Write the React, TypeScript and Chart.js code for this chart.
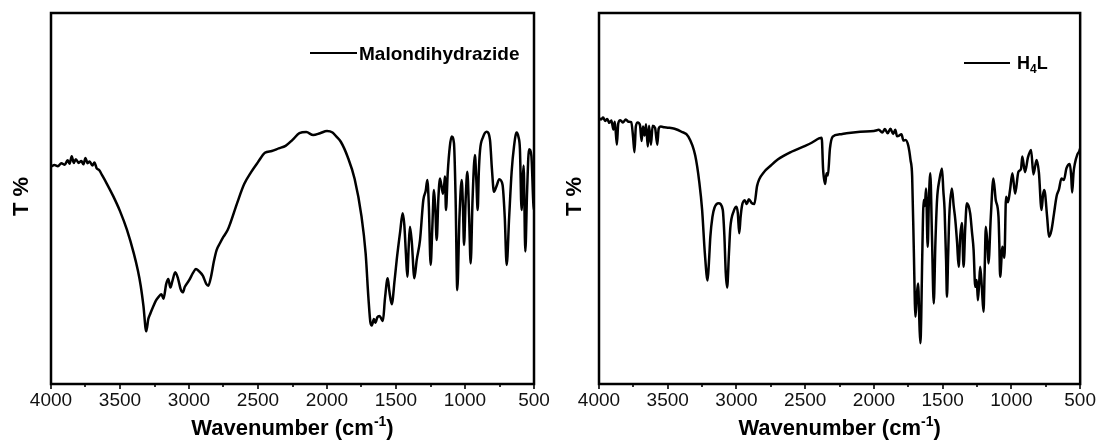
import { useEffect, useRef } from "react";
import { Chart, registerables } from "chart.js";

Chart.register(...registerables);

const FONT = "'Liberation Sans', Arial, Helvetica, sans-serif";

// Axis ticks (cm-1)
const xMajorTicks = [4000, 3500, 3000, 2500, 2000, 1500, 1000, 500];
const xMinorTicks = [3750, 3250, 2750, 2250, 1750, 1250, 750];

// Malondihydrazide spectrum (relative T %, 0 = bottom of frame, 100 = top)
const malonWavenumbers = [
  4000, 3975, 3950, 3925, 3900, 3880, 3865, 3850, 3835, 3820, 3800, 3780, 3765, 3750, 3735, 3720,
  3700, 3685, 3670, 3650, 3630, 3600, 3550, 3500, 3450, 3400, 3370, 3350, 3330, 3310, 3295, 3280,
  3260, 3240, 3220, 3200, 3185, 3165, 3150, 3135, 3120, 3100, 3080, 3060, 3045, 3030, 3000, 2970,
  2950, 2930, 2900, 2875, 2860, 2840, 2820, 2800, 2775, 2750, 2720, 2700, 2650, 2600, 2550, 2500,
  2450, 2400, 2350, 2300, 2250, 2200, 2150, 2100, 2050, 2000, 1960, 1930, 1900, 1850, 1800, 1750,
  1720, 1700, 1685, 1675, 1660, 1650, 1635, 1620, 1600, 1595, 1580, 1560, 1548, 1531, 1510, 1495,
  1470, 1452, 1440, 1428, 1418, 1408, 1399, 1385, 1367, 1350, 1326, 1302, 1285, 1273, 1262, 1249,
  1237, 1225, 1215, 1205, 1193, 1181, 1160, 1150, 1145, 1138, 1125, 1110, 1097, 1080, 1068, 1056,
  1040, 1024, 1015, 1007, 995, 983, 970, 959, 945, 928, 918, 908, 900, 891, 870, 843,
  819, 805, 790, 770, 752, 728, 712, 698, 680, 662, 645, 626, 612, 602, 590, 582,
  575, 563, 550, 536, 519, 505, 500,
];
const malonTransmittance = [
  58.6, 59.0, 58.7, 59.5, 59.1, 60.3, 59.4, 61.4, 59.6, 60.6, 59.6, 60.1, 59.2, 60.9, 59.5, 60.0,
  58.9, 59.7, 58.2, 57.6, 56.3, 54.3, 50.7, 46.6, 41.6, 35.2, 30.5, 26.5, 21.0, 14.2, 17.5, 19.0,
  20.8, 22.5, 23.5, 24.2, 23.0, 27.0, 28.3, 26.0, 27.8, 30.1, 28.5, 25.5, 24.7, 26.2, 27.9, 30.0,
  31.0, 30.5, 29.2, 27.0, 26.5, 29.0, 33.0, 36.1, 38.0, 39.7, 41.5, 43.4, 48.9, 53.9, 57.1, 59.8,
  62.3, 62.8, 63.5, 64.2, 65.8, 67.6, 67.9, 67.1, 67.6, 68.2, 67.8, 66.6, 65.3, 61.2, 55.3, 45.2,
  35.2, 23.3, 16.5, 15.8, 17.5, 16.5, 18.0, 18.3, 17.2, 17.0, 23.0, 28.5, 25.0, 21.5, 28.0, 33.4,
  41.0, 46.0, 43.0, 35.0, 28.9, 37.0, 42.4, 38.0, 28.5, 33.4, 38.8, 49.6, 52.0, 55.0, 48.0, 32.1,
  42.0, 52.3, 47.0, 38.8, 50.0, 55.4, 51.3, 54.0, 55.9, 46.9, 57.0, 64.0, 66.7, 64.9, 50.0, 25.3,
  45.0, 55.0, 48.0, 37.5, 50.0, 57.2, 45.0, 32.5, 50.0, 61.7, 55.0, 46.9, 57.0, 63.0, 66.5, 68.0,
  65.8, 58.0, 51.8, 53.5, 55.2, 53.7, 45.0, 32.1, 45.0, 57.2, 64.0, 67.8, 66.5, 63.3, 46.9, 55.0,
  58.9, 35.7, 52.0, 63.3, 61.5, 48.8, 47.0,
];

// H4L spectrum
const h4lWavenumbers = [
  4000, 3985, 3970, 3955, 3940, 3925, 3910, 3895, 3885, 3870, 3860, 3845, 3825, 3805, 3785, 3765,
  3752, 3742, 3732, 3718, 3702, 3690, 3680, 3668, 3658, 3645, 3636, 3622, 3610, 3592, 3576, 3566,
  3550, 3525, 3500, 3450, 3400, 3350, 3300, 3270, 3250, 3230, 3210, 3200, 3190, 3175, 3160, 3130,
  3100, 3088, 3078, 3068, 3055, 3045, 3020, 3000, 2990, 2980, 2970, 2960, 2940, 2925, 2910, 2890,
  2870, 2850, 2800, 2750, 2700, 2600, 2500, 2450, 2400, 2380, 2370, 2355, 2345, 2335, 2320, 2300,
  2250, 2200, 2100, 2000, 1964, 1940, 1920, 1900, 1880, 1860, 1845, 1832, 1819, 1800, 1785, 1770,
  1750, 1734, 1722, 1710, 1698, 1688, 1679, 1668, 1662, 1656, 1650, 1638, 1630, 1621, 1609, 1600,
  1590, 1578, 1565, 1553, 1541, 1524, 1505, 1495, 1486, 1475, 1469, 1460, 1452, 1433, 1420, 1408,
  1395, 1384, 1372, 1360, 1348, 1336, 1324, 1300, 1287, 1275, 1263, 1252, 1244, 1235, 1227, 1215,
  1203, 1195, 1186, 1175, 1167, 1150, 1131, 1114, 1094, 1088, 1082, 1065, 1051, 1039, 1025, 1010,
  993, 973, 949, 930, 921, 901, 880, 857, 840, 817, 800, 781, 770, 761, 740, 727,
  708, 690, 672, 654, 636, 618, 600, 575, 565, 558, 548, 539, 520, 507, 500,
];
const h4lTransmittance = [
  71.7, 71.3, 71.8, 70.9, 71.4, 70.4, 71.0, 68.6, 70.7, 64.5, 70.2, 71.1, 70.5, 71.3, 70.7, 70.6,
  66.5, 62.5, 69.4, 70.5, 69.8, 65.5, 69.4, 67.0, 70.0, 64.0, 69.6, 64.5, 69.6, 69.0, 64.5, 68.8,
  69.4, 69.2, 69.1, 68.8, 68.0, 66.7, 61.6, 54.3, 47.0, 35.2, 27.9, 33.0, 39.7, 45.0, 47.5, 48.7,
  47.0, 40.0, 30.0, 26.0, 35.0, 42.0, 46.6, 47.8, 46.0, 40.6, 45.0, 48.0, 49.5, 48.5, 49.8, 48.8,
  48.5, 53.4, 57.1, 58.9, 60.5, 62.6, 64.2, 65.1, 66.2, 66.4, 58.0, 53.9, 56.8, 56.2, 63.5, 66.7,
  67.3, 67.6, 68.0, 68.2, 68.5, 67.8, 68.7, 67.6, 68.8, 67.4, 68.5, 66.8, 66.9, 67.3, 65.6, 65.8,
  64.2, 60.4, 55.9, 36.1, 18.1, 24.0, 27.1, 15.0, 11.0, 18.0, 31.6, 49.6, 48.0, 52.7, 37.0, 50.0,
  56.8, 40.0, 21.7, 38.0, 49.6, 55.0, 58.1, 52.0, 46.9, 33.0, 23.5, 35.0, 45.1, 52.7, 48.0, 44.2,
  38.0, 31.6, 40.0, 43.4, 31.6, 42.0, 48.7, 46.0, 41.0, 36.1, 26.2, 28.0, 22.6, 27.0, 31.6, 26.0,
  19.5, 30.0, 42.4, 38.0, 32.5, 45.0, 55.4, 49.6, 45.1, 38.0, 28.9, 37.0, 34.0, 50.5, 49.0, 52.3,
  56.8, 51.3, 57.2, 58.0, 61.3, 57.1, 61.0, 63.1, 56.5, 60.4, 57.0, 46.9, 51.0, 52.3, 45.0, 39.7,
  41.6, 46.0, 50.5, 52.5, 55.4, 55.0, 58.1, 59.3, 56.0, 51.6, 57.0, 59.3, 61.9, 62.7, 63.5,
];

const yTitle = "T %";
const xTitleMain = "Wavenumber (cm";
const xTitleSup = "-1";
const xTitleEnd = ")";

type Part = { text: string; sub?: boolean };

interface PanelCfg {
  width: number;
  padLeft: number;
  padRight: number;
  wavenumbers: number[];
  values: number[];
  legendParts: Part[];
  legendLineX1: number;
  legendLineX2: number;
  legendTextX: number;
  legendY: number;
  legendFontSize: number;
  yTitleX: number;
}

const HEIGHT = 444;
const PAD_TOP = 13;
const X_AXIS_HEIGHT = 60;

function Panel({ cfg }: { cfg: PanelCfg }) {
  const ref = useRef<HTMLCanvasElement | null>(null);

  useEffect(() => {
    if (!ref.current) return;
    const frame = {
      id: "frameAndText",
      afterDraw(chart: any) {
        const { ctx, chartArea } = chart;
        const { left, right, top, bottom } = chartArea;
        const xs = chart.scales.x;
        ctx.save();
        ctx.strokeStyle = "#000";
        ctx.fillStyle = "#000";
        // frame
        ctx.lineWidth = 2.5;
        ctx.strokeRect(left, top, right - left, bottom - top);
        // ticks
        ctx.lineWidth = 1.6;
        ctx.beginPath();
        for (const v of xMajorTicks) {
          const px = Math.round(xs.getPixelForValue(v));
          ctx.moveTo(px, bottom);
          ctx.lineTo(px, bottom + 5);
        }
        for (const v of xMinorTicks) {
          const px = Math.round(xs.getPixelForValue(v));
          ctx.moveTo(px, bottom);
          ctx.lineTo(px, bottom + 3);
        }
        ctx.stroke();
        // y title
        ctx.save();
        ctx.translate(cfg.yTitleX, (top + bottom) / 2 - 2);
        ctx.rotate(-Math.PI / 2);
        ctx.font = `bold 22px ${FONT}`;
        ctx.textAlign = "center";
        ctx.textBaseline = "middle";
        ctx.fillText(yTitle, 0, 0);
        ctx.restore();
        // x title with superscript
        const mainFont = `bold 22px ${FONT}`;
        const supFont = `bold 14px ${FONT}`;
        ctx.textBaseline = "alphabetic";
        ctx.textAlign = "left";
        ctx.font = mainFont;
        const w1 = ctx.measureText(xTitleMain).width;
        const w3 = ctx.measureText(xTitleEnd).width;
        ctx.font = supFont;
        const w2 = ctx.measureText(xTitleSup).width;
        const total = w1 + w2 + w3;
        let tx = (left + right) / 2 - total / 2;
        const by = 435;
        ctx.font = mainFont;
        ctx.fillText(xTitleMain, tx, by);
        tx += w1;
        ctx.font = supFont;
        ctx.fillText(xTitleSup, tx, by - 9);
        tx += w2;
        ctx.font = mainFont;
        ctx.fillText(xTitleEnd, tx, by);
        // legend
        ctx.lineWidth = 2;
        ctx.beginPath();
        ctx.moveTo(cfg.legendLineX1, cfg.legendY);
        ctx.lineTo(cfg.legendLineX2, cfg.legendY);
        ctx.stroke();
        let lx = cfg.legendTextX;
        const fs = cfg.legendFontSize;
        ctx.textBaseline = "alphabetic";
        const lb = cfg.legendY + fs * 0.36;
        for (const p of cfg.legendParts) {
          if (p.sub) {
            ctx.font = `bold ${Math.round(fs * 0.66)}px ${FONT}`;
            ctx.fillText(p.text, lx, lb + 4);
          } else {
            ctx.font = `bold ${fs}px ${FONT}`;
            ctx.fillText(p.text, lx, lb);
          }
          lx += ctx.measureText(p.text).width;
        }
        ctx.restore();
      },
    };

    const data = cfg.wavenumbers.map((w, i) => ({ x: w, y: cfg.values[i] }));

    const chart = new Chart(ref.current, {
      type: "line",
      data: {
        datasets: [
          {
            data,
            borderColor: "#000",
            borderWidth: 2.5,
            pointRadius: 0,
            fill: false,
            cubicInterpolationMode: "monotone",
          },
        ],
      },
      options: {
        animation: false,
        responsive: false,
        devicePixelRatio: 1,
        layout: {
          padding: { left: cfg.padLeft, right: cfg.padRight, top: PAD_TOP, bottom: 0 },
        },
        plugins: {
          legend: { display: false },
          tooltip: { enabled: false },
          title: { display: false },
        },
        scales: {
          x: {
            type: "linear",
            min: 500,
            max: 4000,
            reverse: true,
            afterBuildTicks: (s: any) => {
              s.ticks = xMajorTicks.map((v) => ({ value: v }));
            },
            afterFit: (s: any) => {
              s.height = X_AXIS_HEIGHT;
            },
            grid: { display: false, drawTicks: false },
            border: { display: false },
            ticks: {
              autoSkip: false,
              maxRotation: 0,
              padding: 5,
              color: "#111",
              font: { family: FONT, size: 19 },
              callback: (v: any) => String(v),
            },
          },
          y: {
            display: false,
            min: 0,
            max: 100,
          },
        },
      },
      plugins: [frame],
    } as any);

    return () => chart.destroy();
  }, [cfg]);

  return (
    <canvas
      ref={ref}
      width={cfg.width}
      height={HEIGHT}
      style={{ display: "block", width: cfg.width, height: HEIGHT }}
    />
  );
}

const leftCfg: PanelCfg = {
  width: 560,
  padLeft: 51,
  padRight: 26,
  wavenumbers: malonWavenumbers,
  values: malonTransmittance,
  legendParts: [{ text: "Malondihydrazide" }],
  legendLineX1: 310,
  legendLineX2: 357,
  legendTextX: 359,
  legendY: 53,
  legendFontSize: 19,
  yTitleX: 22,
};

const rightCfg: PanelCfg = {
  width: 541,
  padLeft: 39,
  padRight: 19,
  wavenumbers: h4lWavenumbers,
  values: h4lTransmittance,
  legendParts: [{ text: "H" }, { text: "4", sub: true }, { text: "L" }],
  legendLineX1: 404,
  legendLineX2: 450,
  legendTextX: 457,
  legendY: 63,
  legendFontSize: 18,
  yTitleX: 15,
};

export default function App() {
  return (
    <div
      style={{
        position: "absolute",
        left: 0,
        top: 0,
        width: 1101,
        height: HEIGHT,
        display: "flex",
        background: "#fff",
      }}
    >
      <Panel cfg={leftCfg} />
      <Panel cfg={rightCfg} />
    </div>
  );
}
